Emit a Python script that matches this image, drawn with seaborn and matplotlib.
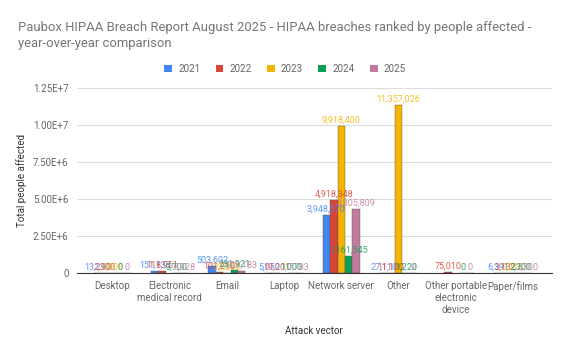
import matplotlib
matplotlib.use("Agg")
import matplotlib.pyplot as plt
import numpy as np
import pandas as pd
import seaborn as sns
from matplotlib.patches import Patch
from matplotlib.ticker import FuncFormatter

# Categories and yearly values (NaN = no bar)
vectors = ["Desktop", "Electronic\nmedical record", "Email", "Laptop",
           "Network server", "Other", "Other portable\nelectronic\ndevice",
           "Paper/films"]
years = ["2021", "2022", "2023", "2024", "2025"]
y2021 = [13290, 151133, 503602, 5050, 3948570, 27110, np.nan, 6391]
y2022 = [2300, 118951, 101210, 19201, 4918348, 11100, 75010, 3132]
y2023 = [9900, np.nan, 23000, np.nan, 9918400, 11357026, np.nan, 2215]
y2024 = [0, 3700, 231921, 1000, 1161545, 1220, 0, 2300]
y2025 = [0, 3928, 129183, 7783, 4305809, 0, 0, 2300]
colors = ["#4285F4", "#DB4437", "#F4B400", "#0F9D58", "#C27BA0"]

rows = []
for yr, vals in zip(years, [y2021, y2022, y2023, y2024, y2025]):
    for v, val in zip(vectors, vals):
        rows.append({"vector": v, "year": yr, "people": val})
df = pd.DataFrame(rows)

sns.set_style("white")
plt.rcParams["font.family"] = ["Roboto", "DejaVu Sans"]

fig = plt.figure(figsize=(5.7, 3.51), dpi=100)
ax = fig.add_axes([0.135, 0.222, 0.833, 0.527])

sns.barplot(data=df, x="vector", y="people", hue="year", palette=colors,
            width=0.65, ax=ax, legend=False, saturation=1,
            edgecolor="#555555", linewidth=0.3)

# value labels
for cont, col in zip(ax.containers, colors):
    for bar in cont:
        h = bar.get_height()
        if np.isnan(h):
            continue
        ax.text(bar.get_x() + bar.get_width() / 2, h + 80000, f"{int(h):,}",
                ha="center", va="bottom", fontsize=6.5, color=col, alpha=0.85)

ax.set_xlim(-0.62, 7.68)
ax.set_ylim(0, 1.25e7)
ax.set_yticks(np.arange(0, 1.26e7, 2.5e6))
ax.yaxis.set_major_formatter(FuncFormatter(
    lambda v, p: "0" if v == 0 else f"{v/10**6:.2f}E+6" if v < 1e7 else f"{v/10**7:.2f}E+7"))
ax.grid(axis="y", color="#dddddd", linewidth=0.8)
ax.set_axisbelow(True)
for s in ["top", "right", "left"]:
    ax.spines[s].set_visible(False)
ax.spines["bottom"].set_color("#333333")
ax.tick_params(axis="both", length=0, labelsize=7, labelcolor="#666666", pad=6)
ax.set_xlabel("Attack vector", fontsize=7, color="#333333", labelpad=8)
ax.set_ylabel("Total people affected", fontsize=7, color="#333333", labelpad=4)

fig.text(0.032, 0.94, "Paubox HIPAA Breach Report August 2025 - HIPAA breaches ranked by people affected -\nyear-over-year comparison",
         fontsize=9.4, color="#757575", va="top", linespacing=1.3)

handles = [Patch(facecolor=c, edgecolor="none") for c in colors]
fig.legend(handles, years, loc="center", bbox_to_anchor=(0.5, 0.803), ncol=5,
           frameon=False, fontsize=7, labelcolor="#666666", handlelength=0.8,
           handleheight=0.8, columnspacing=1.6, handletextpad=0.6)

fig.savefig("out.png", dpi=100)
